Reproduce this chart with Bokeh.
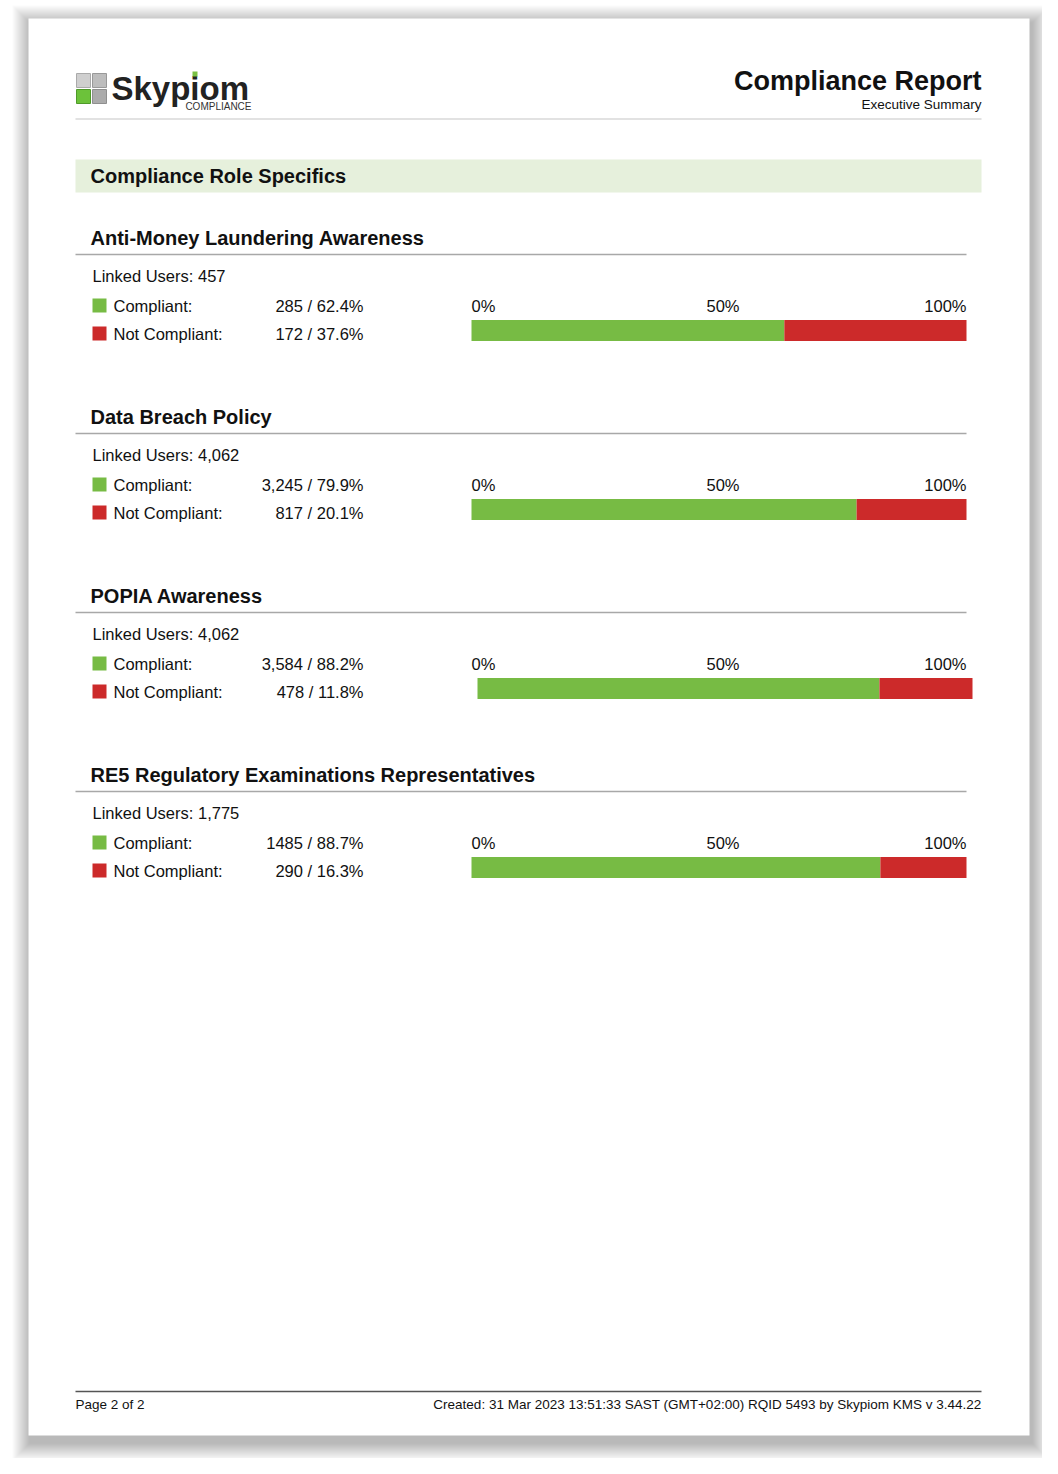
from bokeh.plotting import figure
from bokeh.models import Range1d
from bokeh.embed import file_html
from bokeh.resources import INLINE
from bokeh.core.properties import value

# ---------------- data ----------------
report_title = "Compliance Report"
report_subtitle = "Executive Summary"
band_title = "Compliance Role Specifics"
sections = ["Anti-Money Laundering Awareness", "Data Breach Policy",
            "POPIA Awareness", "RE5 Regulatory Examinations Representatives"]
linked_users = ["457", "4,062", "4,062", "1,775"]
compliant_text = ["285 / 62.4%", "3,245 / 79.9%", "3,584 / 88.2%", "1485 / 88.7%"]
not_compliant_text = ["172 / 37.6%", "817 / 20.1%", "478 / 11.8%", "290 / 16.3%"]
# compliant share as drawn in the bars, percent
bar_compliant_pct = [63.2, 77.8, 81.2, 82.6]
tick_values = [0, 50, 100]
tick_labels = ["0%", "50%", "100%"]
footer_left = "Page 2 of 2"
footer_right = "Created: 31 Mar 2023 13:51:33 SAST (GMT+02:00) RQID 5493 by Skypiom KMS v 3.44.22"

# ---------------- style / layout ----------------
FONT = value("Liberation Sans")
GREEN = "#77bb44"
RED = "#cc2a2a"
TXT = "#111111"
BAR_L, BAR_W = 471, 495
bar_shift = [0, 0, 6, 0]
tick_align = ["left", "center", "right"]
tick_nudge = [0, 4, 0]

p = figure(width=1042, height=1458, x_range=Range1d(0, 1042), y_range=Range1d(1458, 0),
           output_backend="svg", toolbar_location=None, min_border=0)
p.axis.visible = False
p.grid.visible = False
p.outline_line_color = None
p.background_fill_color = "white"
p.border_fill_color = "white"

# page shadow
n = 18
for k in range(n, 0, -1):
    p.quad(left=[28 - k + 2], right=[1029 + k + 2], top=[18 - k + 5], bottom=[1435 + k + 7],
           fill_color="black", fill_alpha=0.016, line_color=None)
p.quad(left=[28], right=[1029], top=[18], bottom=[1435], fill_color="white", line_color=None)

# logo
p.quad(left=[76, 92, 76, 92], right=[90, 106, 90, 106], top=[73, 73, 89, 89], bottom=[87, 87, 103, 103],
       fill_color=["#cfcfcf", "#bdbdbd", "#6cc23a", "#ababab"], line_color=["#aaaaaa", "#999999", "#4f9a2a", "#8f8f8f"],
       line_width=1)
p.text(x=[111], y=[88], text=["Skypiom"], text_font=FONT, text_font_style="bold",
       text_font_size="33px", text_color="#222222", text_baseline="middle", text_align="left")
p.quad(left=[192], right=[197], top=[71], bottom=[76], fill_color="#7ac143", line_color=None)
p.text(x=[251], y=[106], text=["COMPLIANCE"], text_font=FONT, text_font_size="10px",
       text_color="#333333", text_baseline="middle", text_align="right")

# header
p.text(x=[981], y=[80], text=[report_title], text_font=FONT, text_font_style="bold",
       text_font_size="27px", text_color=TXT, text_baseline="middle", text_align="right")
p.text(x=[981], y=[104], text=[report_subtitle], text_font=FONT, text_font_size="13.5px",
       text_color=TXT, text_baseline="middle", text_align="right")
p.segment(x0=[75], y0=[118.5], x1=[981], y1=[118.5], line_color="#e2e2e2", line_width=2)

# band
p.quad(left=[75], right=[981], top=[159], bottom=[192], fill_color="#e6f0dc", line_color=None)
p.text(x=[90], y=[175.5], text=[band_title], text_font=FONT, text_font_style="bold",
       text_font_size="20px", text_color=TXT, text_baseline="middle", text_align="left")

# sections
for i, name in enumerate(sections):
    b = 237 + 179 * i
    p.text(x=[90], y=[b], text=[name], text_font=FONT, text_font_style="bold",
           text_font_size="20px", text_color=TXT, text_baseline="middle", text_align="left")
    p.segment(x0=[75], y0=[b + 17], x1=[966], y1=[b + 17], line_color="#a8a8a8", line_width=1.5)
    p.text(x=[92], y=[b + 38], text=["Linked Users: " + linked_users[i]], text_font=FONT,
           text_font_size="16.5px", text_color=TXT, text_baseline="middle", text_align="left")
    # legend rows
    p.quad(left=[92, 92], right=[106, 106], top=[b + 61, b + 89], bottom=[b + 75, b + 103],
           fill_color=[GREEN, RED], line_color=None)
    p.text(x=[113, 113], y=[b + 68, b + 96], text=["Compliant:", "Not Compliant:"], text_font=FONT,
           text_font_size="16.5px", text_color=TXT, text_baseline="middle", text_align="left")
    p.text(x=[363, 363], y=[b + 68, b + 96], text=[compliant_text[i], not_compliant_text[i]],
           text_font=FONT, text_font_size="16.5px", text_color=TXT, text_baseline="middle",
           text_align="right")
    # scale labels
    for v, lab, al, nd in zip(tick_values, tick_labels, tick_align, tick_nudge):
        p.text(x=[BAR_L + v / 100 * BAR_W + nd], y=[b + 68], text=[lab], text_font=FONT,
               text_font_size="16.5px", text_color=TXT, text_baseline="middle", text_align=al)
    # bar
    s = bar_shift[i]
    split = BAR_L + s + bar_compliant_pct[i] / 100 * BAR_W
    p.quad(left=[BAR_L + s, split], right=[split, BAR_L + s + BAR_W], top=[b + 82.5, b + 82.5],
           bottom=[b + 103.5, b + 103.5], fill_color=[GREEN, RED], line_color=None)

# footer
p.segment(x0=[75], y0=[1391], x1=[981], y1=[1391], line_color="#555555", line_width=1.5)
p.text(x=[75], y=[1403.5], text=[footer_left], text_font=FONT, text_font_size="13.5px",
       text_color=TXT, text_baseline="middle", text_align="left")
p.text(x=[981], y=[1403.5], text=[footer_right], text_font=FONT, text_font_size="13.5px",
       text_color=TXT, text_baseline="middle", text_align="right")

open("out.html", "w").write(file_html(p, INLINE))
